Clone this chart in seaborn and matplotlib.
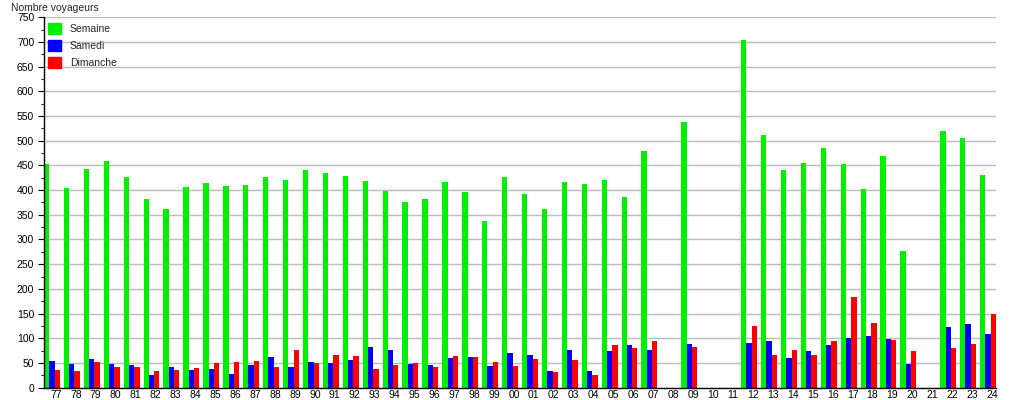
import numpy as np
import pandas as pd
import matplotlib
matplotlib.use("Agg")
import matplotlib.pyplot as plt
from matplotlib.ticker import MultipleLocator
from matplotlib.patches import Rectangle
import seaborn as sns

sns.set_style("white")
plt.rcParams.update({
    "font.family": ["Liberation Sans", "DejaVu Sans"],
    "font.size": 7.5,
})

annees = ["77", "78", "79", "80", "81", "82", "83", "84", "85", "86", "87", "88",
          "89", "90", "91", "92", "93", "94", "95", "96", "97", "98", "99", "00",
          "01", "02", "03", "04", "05", "06", "07", "08", "09", "10", "11", "12",
          "13", "14", "15", "16", "17", "18", "19", "20", "21", "22", "23", "24"]

semaine = [453, 404, 443, 459, 427, 382, 362, 406, 414, 408, 410, 427,
           420, 441, 435, 429, 419, 398, 376, 382, 417, 396, 338, 427,
           392, 362, 416, 412, 420, 386, 479, 0, 538, 0, 0, 704,
           512, 441, 455, 485, 453, 402, 470, 277, 0, 520, 506, 431]

samedi = [54, 48, 58, 48, 46, 26, 42, 36, 38, 28, 46, 62,
          42, 52, 50, 56, 82, 76, 48, 46, 60, 62, 44, 70,
          66, 34, 76, 34, 74, 86, 76, 0, 88, 0, 0, 90,
          94, 60, 74, 86, 100, 104, 98, 48, 0, 123, 129, 108]

dimanche = [36, 34, 52, 42, 42, 34, 36, 40, 50, 52, 54, 42,
            76, 50, 66, 64, 38, 46, 50, 42, 64, 62, 52, 44,
            58, 32, 56, 26, 86, 80, 94, 0, 82, 0, 0, 125,
            66, 76, 66, 94, 184, 131, 96, 74, 0, 80, 88, 149]

series = ["Semaine", "Samedi", "Dimanche"]
couleurs = ["#00f000", "#0000ff", "#ff0000"]

df = pd.DataFrame({
    "annee": annees * 3,
    "voyageurs": semaine + samedi + dimanche,
    "type": [s for s in series for _ in annees],
})

fig = plt.figure(figsize=(10.15, 4.0), dpi=100)
ax = fig.add_axes([0.0433, 0.031, 0.9380, 0.9257])

sns.barplot(data=df, x="annee", y="voyageurs", hue="type",
            order=annees, hue_order=series, palette=couleurs,
            width=0.8, saturation=1, linewidth=0, legend=False, ax=ax)

ax.set_xlim(-0.4, len(annees) - 0.6)
ax.set_ylim(0, 750)
ax.yaxis.set_major_locator(MultipleLocator(50))
ax.yaxis.set_minor_locator(MultipleLocator(25))
ax.yaxis.grid(True, which="major", color="#bbbbbb", linewidth=1)
ax.set_axisbelow(True)

ax.set_xticks(np.arange(len(annees)) + 0.2)
ax.set_xticklabels(annees)
ax.tick_params(axis="x", length=0, pad=2, labelsize=7.5, colors="black")
ax.tick_params(axis="y", which="major", direction="out", length=4, width=0.8,
               left=True, pad=3, labelsize=7.5, colors="black")
ax.tick_params(axis="y", which="minor", direction="out", length=2, width=0.8, left=True)

for side in ["top", "right"]:
    ax.spines[side].set_visible(False)
for side in ["left", "bottom"]:
    ax.spines[side].set_color("black")
    ax.spines[side].set_linewidth(1)

ax.set_xlabel("")
ax.set_ylabel("")
fig.text(0.011, 0.993, "Nombre voyageurs", ha="left", va="top", fontsize=7.5)

handles = [Rectangle((0, 0), 1, 1, color=c) for c in couleurs]
ax.legend(handles, series, loc="upper left", frameon=False,
          bbox_to_anchor=(0.0, 0.995), handlelength=1.25, handleheight=1.25,
          handletextpad=0.85, labelspacing=0.55, borderaxespad=0.0,
          borderpad=0.4, fontsize=7.5)

fig.savefig("out.png", dpi=100)
